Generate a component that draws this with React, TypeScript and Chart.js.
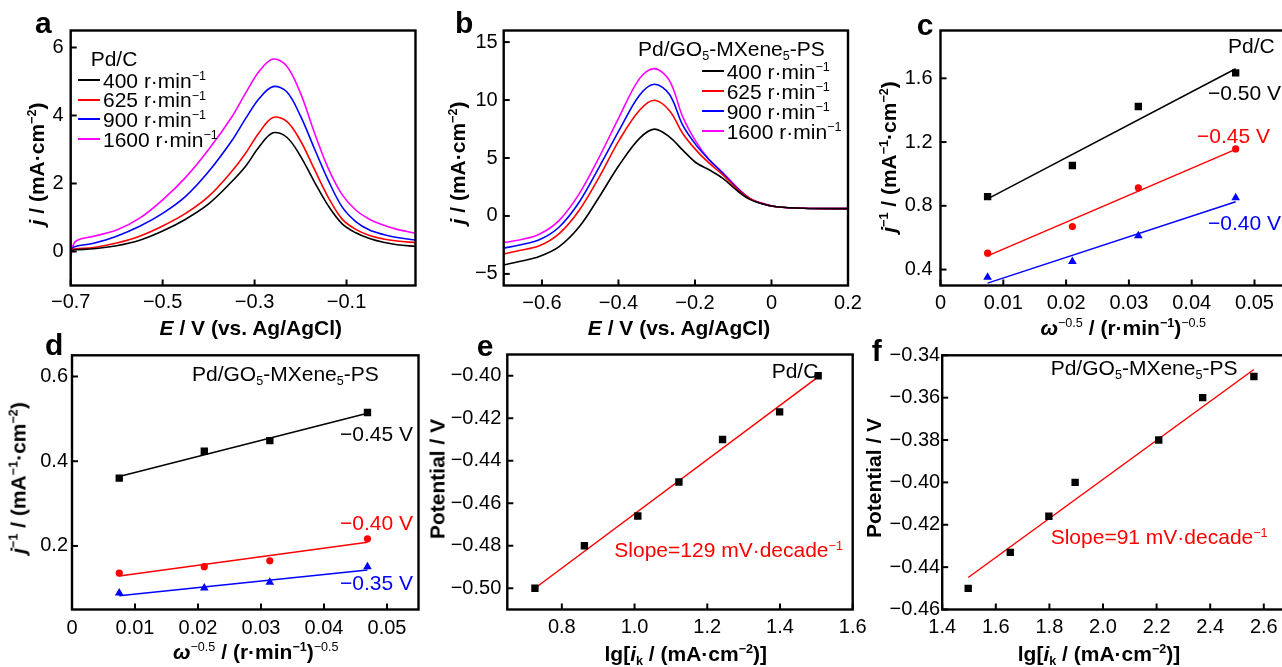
import React, { useEffect, useRef } from "react";
import { Chart, registerables } from "chart.js";
Chart.register(...registerables);

const FONT = "'Liberation Sans', Arial, Helvetica, sans-serif";
Chart.defaults.font.family = FONT;
Chart.defaults.color = "#000";

const BLACK = "#000000";
const RED = "#ff0000";
const BLUE = "#0000ff";
const MAGENTA = "#ff00ff";

// ---------- Panel a : Pd/C LSV ----------
const aX = [-0.70, -0.69, -0.65, -0.60, -0.55, -0.50, -0.45, -0.40, -0.35, -0.32, -0.29, -0.26, -0.23, -0.20, -0.17, -0.14, -0.11, -0.08, -0.05, -0.02, 0.01, 0.05];
const a400 = [0.02, 0.05, 0.08, 0.17, 0.33, 0.60, 0.95, 1.40, 2.05, 2.50, 3.08, 3.49, 3.36, 2.80, 2.05, 1.35, 0.82, 0.55, 0.38, 0.27, 0.20, 0.15];
const a625 = [0.04, 0.08, 0.12, 0.25, 0.45, 0.75, 1.12, 1.62, 2.35, 2.88, 3.50, 3.94, 3.83, 3.25, 2.42, 1.60, 0.96, 0.65, 0.47, 0.37, 0.31, 0.26];
const a900 = [0.05, 0.15, 0.24, 0.45, 0.74, 1.12, 1.62, 2.35, 3.25, 3.90, 4.50, 4.85, 4.70, 3.98, 3.03, 2.10, 1.32, 0.88, 0.63, 0.50, 0.41, 0.34];
const a1600 = [-0.15, 0.29, 0.45, 0.63, 0.98, 1.52, 2.18, 3.00, 3.95, 4.65, 5.30, 5.66, 5.45, 4.65, 3.50, 2.45, 1.68, 1.22, 0.95, 0.78, 0.65, 0.54];
const aXTicks = [-0.7, -0.5, -0.3, -0.1];
const aXLabels = ["\u22120.7", "\u22120.5", "\u22120.3", "\u22120.1"];
const aYTicks = [0, 2, 4, 6];
const aYLabels = ["0", "2", "4", "6"];

// ---------- Panel b : Pd/GO5-MXene5-PS LSV ----------
const bX = [-0.70, -0.659, -0.607, -0.555, -0.502, -0.45, -0.398, -0.345, -0.306, -0.267, -0.232, -0.197, -0.162, -0.127, -0.092, -0.057, -0.022, 0.013, 0.083, 0.2];
const b400 = [-4.22, -3.93, -3.50, -2.65, -0.92, 1.66, 4.39, 6.69, 7.49, 6.82, 5.68, 4.59, 3.96, 3.24, 2.24, 1.43, 1.03, 0.80, 0.66, 0.63];
const b625 = [-3.27, -2.98, -2.58, -1.52, 0.52, 3.38, 6.54, 9.12, 9.98, 9.10, 7.12, 5.68, 4.53, 3.53, 2.38, 1.52, 1.03, 0.80, 0.66, 0.63];
const b900 = [-2.78, -2.50, -2.06, -0.95, 1.23, 4.24, 7.40, 10.41, 11.36, 10.50, 7.83, 6.11, 4.82, 3.67, 2.47, 1.52, 1.03, 0.80, 0.66, 0.63];
const b1600 = [-2.29, -2.07, -1.58, -0.38, 1.95, 5.10, 8.55, 11.85, 12.71, 11.70, 8.55, 6.39, 4.82, 3.73, 2.53, 1.52, 1.09, 0.80, 0.66, 0.63];
const bXTicks = [-0.6, -0.4, -0.2, 0, 0.2];
const bXLabels = ["\u22120.6", "\u22120.4", "\u22120.2", "0", "0.2"];
const bYTicks = [-5, 0, 5, 10, 15];
const bYLabels = ["\u22125", "0", "5", "10", "15"];

// ---------- Panel c : Koutecky-Levich Pd/C ----------
const cX = [0.0075, 0.021, 0.0315, 0.047];
const c050 = [0.858, 1.053, 1.423, 1.634];
const c045 = [0.503, 0.670, 0.913, 1.157];
const c040 = [0.352, 0.451, 0.612, 0.850];
const cFitX = [0.0075, 0.047];
const cFit050 = [0.844, 1.660];
const cFit045 = [0.486, 1.154];
const cFit040 = [0.315, 0.825];
const cXTicks = [0, 0.01, 0.02, 0.03, 0.04, 0.05];
const cXLabels = ["0", "0.01", "0.02", "0.03", "0.04", "0.05"];
const cYTicks = [0.4, 0.8, 1.2, 1.6];
const cYLabels = ["0.4", "0.8", "1.2", "1.6"];

// ---------- Panel d : Koutecky-Levich Pd/GO5-MXene5-PS ----------
const dX = [0.0075, 0.021, 0.0314, 0.0469];
const d045 = [0.360, 0.4235, 0.4486, 0.515];
const d040 = [0.136, 0.151, 0.165, 0.217];
const d035 = [0.089, 0.1005, 0.1145, 0.151];
const dFitX = [0.0075, 0.0469];
const dFit045 = [0.364, 0.513];
const dFit040 = [0.129, 0.2085];
const dFit035 = [0.0824, 0.1434];
const dXTicks = [0, 0.01, 0.02, 0.03, 0.04, 0.05];
const dXLabels = ["0", "0.01", "0.02", "0.03", "0.04", "0.05"];
const dYTicks = [0.2, 0.4, 0.6];
const dYLabels = ["0.2", "0.4", "0.6"];

// ---------- Panel e : Tafel Pd/C ----------
const eX = [0.726, 0.862, 1.009, 1.122, 1.242, 1.399, 1.505];
const eY = [-0.500, -0.480, -0.466, -0.450, -0.430, -0.417, -0.400];
const eFitX = [0.726, 1.505];
const eFitY = [-0.500, -0.4005];
const eXTicks = [0.8, 1.0, 1.2, 1.4, 1.6];
const eXLabels = ["0.8", "1.0", "1.2", "1.4", "1.6"];
const eYTicks = [-0.50, -0.48, -0.46, -0.44, -0.42, -0.40];
const eYLabels = ["\u22120.50", "\u22120.48", "\u22120.46", "\u22120.44", "\u22120.42", "\u22120.40"];

// ---------- Panel f : Tafel Pd/GO5-MXene5-PS ----------
const fX = [1.497, 1.654, 1.798, 1.896, 2.208, 2.372, 2.563];
const fY = [-0.450, -0.433, -0.416, -0.400, -0.380, -0.360, -0.350];
const fFitX = [1.497, 2.563];
const fFitY = [-0.4449, -0.3467];
const fXTicks = [1.4, 1.6, 1.8, 2.0, 2.2, 2.4, 2.6];
const fXLabels = ["1.4", "1.6", "1.8", "2.0", "2.2", "2.4", "2.6"];
const fYTicks = [-0.46, -0.44, -0.42, -0.40, -0.38, -0.36, -0.34];
const fYLabels = ["\u22120.46", "\u22120.44", "\u22120.42", "\u22120.40", "\u22120.38", "\u22120.36", "\u22120.34"];

const SPEEDS = ["400", "625", "900", "1600"];
const SPEED_COLORS = [BLACK, RED, BLUE, MAGENTA];

type Series = { x: number[]; y: number[]; color: string; kind: "curve" | "points" | "fit"; shape?: string; r?: number };
type Panel = {
  L: number; R: number; T: number; B: number;
  xMin: number; xMax: number; yMin: number; yMax: number;
  xTicks: number[]; xLabels: string[]; yTicks: number[]; yLabels: string[];
  xPad: number; yPad: number;
  series: Series[];
};

const PANELS: Panel[] = [
  {
    L: 70.7, R: 415.5, T: 30.5, B: 285.5, xMin: -0.7, xMax: 0.05, yMin: -1, yMax: 6.5,
    xTicks: aXTicks, xLabels: aXLabels, yTicks: aYTicks, yLabels: aYLabels, xPad: 5, yPad: 7,
    series: [
      { x: aX, y: a400, color: BLACK, kind: "curve" },
      { x: aX, y: a625, color: RED, kind: "curve" },
      { x: aX, y: a900, color: BLUE, kind: "curve" },
      { x: aX, y: a1600, color: MAGENTA, kind: "curve" },
    ],
  },
  {
    L: 503.7, R: 848, T: 30.5, B: 285.5, xMin: -0.7, xMax: 0.2, yMin: -6, yMax: 16,
    xTicks: bXTicks, xLabels: bXLabels, yTicks: bYTicks, yLabels: bYLabels, xPad: 6, yPad: 6,
    series: [
      { x: bX, y: b400, color: BLACK, kind: "curve" },
      { x: bX, y: b625, color: RED, kind: "curve" },
      { x: bX, y: b900, color: BLUE, kind: "curve" },
      { x: bX, y: b1600, color: MAGENTA, kind: "curve" },
    ],
  },
  {
    L: 940.5, R: 1285.9, T: 30.5, B: 285.5, xMin: 0, xMax: 0.055, yMin: 0.3, yMax: 1.9,
    xTicks: cXTicks, xLabels: cXLabels, yTicks: cYTicks, yLabels: cYLabels, xPad: 6, yPad: 8,
    series: [
      { x: cX, y: c050, color: BLACK, kind: "points", shape: "rect", r: 5.2 },
      { x: cX, y: c045, color: RED, kind: "points", shape: "circle", r: 3.6 },
      { x: cX, y: c040, color: BLUE, kind: "points", shape: "triangle", r: 5 },
      { x: cFitX, y: cFit050, color: BLACK, kind: "fit" },
      { x: cFitX, y: cFit045, color: RED, kind: "fit" },
      { x: cFitX, y: cFit040, color: BLUE, kind: "fit" },
    ],
  },
  {
    L: 72, R: 418.5, T: 355.3, B: 609.5, xMin: 0, xMax: 0.055, yMin: 0.05, yMax: 0.65,
    xTicks: dXTicks, xLabels: dXLabels, yTicks: dYTicks, yLabels: dYLabels, xPad: 7, yPad: 4,
    series: [
      { x: dX, y: d045, color: BLACK, kind: "points", shape: "rect", r: 5.2 },
      { x: dX, y: d040, color: RED, kind: "points", shape: "circle", r: 3.6 },
      { x: dX, y: d035, color: BLUE, kind: "points", shape: "triangle", r: 5 },
      { x: dFitX, y: dFit045, color: BLACK, kind: "fit" },
      { x: dFitX, y: dFit040, color: RED, kind: "fit" },
      { x: dFitX, y: dFit035, color: BLUE, kind: "fit" },
    ],
  },
  {
    L: 507.3, R: 852.7, T: 354.5, B: 609.5, xMin: 0.65, xMax: 1.6, yMin: -0.51, yMax: -0.39,
    xTicks: eXTicks, xLabels: eXLabels, yTicks: eYTicks, yLabels: eYLabels, xPad: 6, yPad: 6,
    series: [
      { x: eX, y: eY, color: BLACK, kind: "points", shape: "rect", r: 5.2 },
      { x: eFitX, y: eFitY, color: RED, kind: "fit" },
    ],
  },
  {
    L: 942.2, R: 1290.6, T: 355.3, B: 609.5, xMin: 1.4, xMax: 2.7, yMin: -0.46, yMax: -0.34,
    xTicks: fXTicks, xLabels: fXLabels, yTicks: fYTicks, yLabels: fYLabels, xPad: 6, yPad: 2,
    series: [
      { x: fX, y: fY, color: BLACK, kind: "points", shape: "rect", r: 5.2 },
      { x: fFitX, y: fFitY, color: RED, kind: "fit" },
    ],
  },
];

const framePlugin = {
  id: "frame",
  afterDatasetsDraw(chart: any) {
    const { ctx, chartArea: a, scales } = chart;
    ctx.save();
    ctx.strokeStyle = "#000";
    ctx.lineWidth = 2;
    scales.x.ticks.forEach((t: any) => {
      const p = scales.x.getPixelForValue(t.value);
      ctx.beginPath();
      ctx.moveTo(p, a.bottom);
      ctx.lineTo(p, a.bottom - 6);
      ctx.stroke();
    });
    scales.y.ticks.forEach((t: any) => {
      const p = scales.y.getPixelForValue(t.value);
      ctx.beginPath();
      ctx.moveTo(a.left, p);
      ctx.lineTo(a.left + 6, p);
      ctx.stroke();
    });
    ctx.lineWidth = 2.4;
    ctx.strokeRect(a.left, a.top, a.right - a.left, a.bottom - a.top);
    ctx.restore();
  },
};

function toDataset(s: Series) {
  const data = s.x.map((v, i) => ({ x: v, y: s.y[i] }));
  if (s.kind === "curve")
    return { data, showLine: true, borderColor: s.color, borderWidth: 1.6, pointRadius: 0, tension: 0.35, fill: false };
  if (s.kind === "fit")
    return { data, showLine: true, borderColor: s.color, borderWidth: 1.5, pointRadius: 0, fill: false };
  return { data, showLine: false, pointStyle: s.shape, pointRadius: s.r, backgroundColor: s.color, borderColor: s.color, borderWidth: 0 };
}

function ChartPanel({ p }: { p: Panel }) {
  const ref = useRef<HTMLCanvasElement>(null);
  const left = Math.floor(p.L - 80);
  const top = Math.floor(p.T - 20);
  const right = Math.ceil(p.R + 34);
  const bottom = Math.ceil(p.B + 44);
  const w = right - left;
  const h = bottom - top;
  useEffect(() => {
    const chart = new Chart(ref.current as HTMLCanvasElement, {
      type: "scatter",
      data: { datasets: p.series.map(toDataset) as any },
      options: {
        responsive: false,
        maintainAspectRatio: false,
        animation: false,
        devicePixelRatio: 1,
        events: [],
        layout: { padding: { left: 0, top: p.T - top, right: right - p.R, bottom: 0 } },
        plugins: { legend: { display: false }, tooltip: { enabled: false } },
        scales: {
          x: {
            type: "linear", min: p.xMin, max: p.xMax,
            grid: { display: false, drawTicks: false }, border: { display: false },
            ticks: { padding: p.xPad, autoSkip: false, maxRotation: 0, color: "#000", font: { size: 20, family: FONT }, callback: (_v: any, i: number) => p.xLabels[i] },
            afterBuildTicks: (s: any) => { s.ticks = p.xTicks.map((v) => ({ value: v })); },
            afterFit: (s: any) => { s.height = bottom - p.B; },
          },
          y: {
            type: "linear", min: p.yMin, max: p.yMax,
            grid: { display: false, drawTicks: false }, border: { display: false },
            ticks: { padding: p.yPad, autoSkip: false, color: "#000", font: { size: 20, family: FONT }, callback: (_v: any, i: number) => p.yLabels[i] },
            afterBuildTicks: (s: any) => { s.ticks = p.yTicks.map((v) => ({ value: v })); },
            afterFit: (s: any) => { s.width = p.L - left; },
          },
        },
      } as any,
      plugins: [framePlugin],
    });
    return () => chart.destroy();
  }, []);
  return <canvas ref={ref} width={w} height={h} style={{ position: "absolute", left, top, width: w, height: h }} />;
}

const Sup = ({ children, normal }: { children: any; normal?: boolean }) => (
  <span style={{ fontSize: "0.6em", position: "relative", top: "-0.62em", lineHeight: 0, fontWeight: normal ? 400 : undefined }}>{children}</span>
);
const Sub = ({ children }: { children: any }) => (
  <span style={{ fontSize: "0.6em", position: "relative", top: "0.3em", lineHeight: 0 }}>{children}</span>
);

function Txt({ x, y, size = 21, color = "#000", weight = 400, children }: any) {
  return (
    <div style={{ position: "absolute", left: x, top: y - 0.4885 * size, fontSize: size, lineHeight: 1, fontFamily: FONT, color, fontWeight: weight, whiteSpace: "nowrap" }}>
      {children}
    </div>
  );
}
function CTxt({ x, y, size = 21, weight = 700, children }: any) {
  return (
    <div style={{ position: "absolute", left: x, top: y - 0.4885 * size, transform: "translateX(-50%)", fontSize: size, lineHeight: 1, fontFamily: FONT, fontWeight: weight, whiteSpace: "nowrap", color: "#000" }}>
      {children}
    </div>
  );
}
function VTxt({ x, y, size = 21, children }: any) {
  return (
    <div style={{ position: "absolute", left: x, top: y, transform: "translate(-50%,-50%) rotate(-90deg)", fontSize: size, lineHeight: 1, fontFamily: FONT, fontWeight: 700, whiteSpace: "nowrap", color: "#000" }}>
      {children}
    </div>
  );
}
function LegendRow({ lx, tx, y, color, label }: any) {
  return (
    <>
      <div style={{ position: "absolute", left: Math.round(lx), top: Math.round(y) - 1, width: Math.round(tx - lx - 3), height: 1.5, background: color }} />
      <Txt x={tx} y={y}>{label} r·min<Sup>−1</Sup></Txt>
    </>
  );
}

const Catalyst = () => (
  <>Pd/GO<Sub>5</Sub>-MXene<Sub>5</Sub>-PS</>
);
const ETitle = () => (<><i>E</i> / V (vs. Ag/AgCl)</>);
const JTitle = () => (<><i>j</i> / (mA·cm<Sup>−2</Sup>)</>);
const JInvTitle = () => (<><i>j</i><Sup>−1</Sup> / (mA<Sup>−1</Sup>·cm<Sup>−2</Sup>)</>);
const WTitle = () => (<><i>ω</i><Sup normal>−0.5</Sup> / (r·min<Sup>−1</Sup>)<Sup normal>−0.5</Sup></>);
const IkTitle = () => (<>lg[<i>i</i><Sub>k</Sub> / (mA·cm<Sup>−2</Sup>)]</>);

export default function App() {
  return (
    <div style={{ position: "absolute", left: 0, top: 0, width: 1282, height: 667, overflow: "hidden", background: "#fff", fontFamily: FONT }}>
      {PANELS.map((p, i) => <ChartPanel key={i} p={p} />)}

      {/* panel letters */}
      <Txt x={35} y={22.3} size={30} weight={700}>a</Txt>
      <Txt x={455} y={22.3} size={30} weight={700}>b</Txt>
      <Txt x={916.7} y={24.3} size={30} weight={700}>c</Txt>
      <Txt x={45} y={344.3} size={30} weight={700}>d</Txt>
      <Txt x={476.7} y={346} size={30} weight={700}>e</Txt>
      <Txt x={871.7} y={351} size={30} weight={700}>f</Txt>

      {/* panel a */}
      <Txt x={90.7} y={58.3}>Pd/C</Txt>
      {SPEEDS.map((s, i) => <LegendRow key={"a" + s} lx={78} tx={103} y={80 + i * 19.7} color={SPEED_COLORS[i]} label={s} />)}
      <CTxt x={250.8} y={327}><ETitle /></CTxt>
      <VTxt x={36} y={163.5}><JTitle /></VTxt>

      {/* panel b */}
      <Txt x={638} y={48.3}><Catalyst /></Txt>
      {SPEEDS.map((s, i) => <LegendRow key={"b" + s} lx={701.7} tx={726.7} y={71 + i * 20} color={SPEED_COLORS[i]} label={s} />)}
      <CTxt x={679} y={327}><ETitle /></CTxt>
      <VTxt x={457} y={162.5}><JTitle /></VTxt>

      {/* panel c */}
      <Txt x={1228} y={45}>Pd/C</Txt>
      <Txt x={1208} y={92.5}>−0.50 V</Txt>
      <Txt x={1197} y={135} color={RED}>−0.45 V</Txt>
      <Txt x={1208} y={222} color={BLUE}>−0.40 V</Txt>
      <CTxt x={1123.3} y={327}><WTitle /></CTxt>
      <VTxt x={888.3} y={156.7}><JInvTitle /></VTxt>

      {/* panel d */}
      <Txt x={192} y={373.3}><Catalyst /></Txt>
      <Txt x={340} y={433.3}>−0.45 V</Txt>
      <Txt x={340} y={522.5} color={RED}>−0.40 V</Txt>
      <Txt x={340} y={582.5} color={BLUE}>−0.35 V</Txt>
      <CTxt x={255.8} y={651}><WTitle /></CTxt>
      <VTxt x={18.3} y={478}><JInvTitle /></VTxt>

      {/* panel e */}
      <Txt x={771.7} y={370}>Pd/C</Txt>
      <Txt x={614.3} y={549.7} color={RED}>Slope=129 mV·decade<Sup>−1</Sup></Txt>
      <CTxt x={685.8} y={653}><IkTitle /></CTxt>
      <VTxt x={436.7} y={479}>Potential / V</VTxt>

      {/* panel f */}
      <Txt x={1050.7} y={367.5}><Catalyst /></Txt>
      <Txt x={1050.7} y={536.7} color={RED}>Slope=91 mV·decade<Sup>−1</Sup></Txt>
      <CTxt x={1099} y={653}><IkTitle /></CTxt>
      <VTxt x={873.3} y={478}>Potential / V</VTxt>
    </div>
  );
}
